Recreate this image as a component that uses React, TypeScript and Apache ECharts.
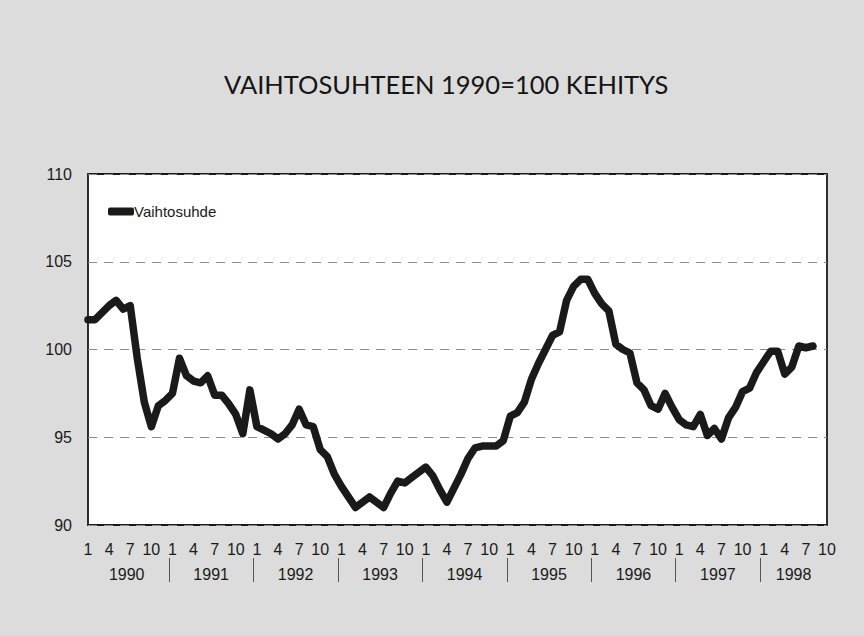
import React, { useEffect, useRef } from "react";
import * as echarts from "echarts";

const TITLE = "VAIHTOSUHTEEN 1990=100 KEHITYS";
const SERIES_NAME = "Vaihtosuhde";
const YEARS = ["1990", "1991", "1992", "1993", "1994", "1995", "1996", "1997", "1998"];
const MONTHS_SHOWN = 106; // 1990-01 .. 1998-10
const Y_MIN = 90;
const Y_MAX = 110;
const Y_STEP = 5;

// monthly values, 1990-01 .. 1998-08
const VALUES = [
  101.7, 101.7, 102.1, 102.5, 102.8, 102.3, 102.5, 99.5, 97.0, 95.6, 96.8, 97.1,
  97.5, 99.5, 98.5, 98.2, 98.1, 98.5, 97.4, 97.4, 96.9, 96.3, 95.2, 97.7,
  95.6, 95.4, 95.2, 94.9, 95.2, 95.7, 96.6, 95.7, 95.6, 94.3, 93.9, 92.9,
  92.2, 91.6, 91.0, 91.3, 91.6, 91.3, 91.0, 91.8, 92.5, 92.4, 92.7, 93.0,
  93.3, 92.8, 92.0, 91.3, 92.1, 92.9, 93.8, 94.4, 94.5, 94.5, 94.5, 94.8,
  96.2, 96.4, 97.0, 98.3, 99.2, 100.0, 100.8, 101.0, 102.8, 103.6, 104.0, 104.0,
  103.2, 102.6, 102.2, 100.3, 100.0, 99.8, 98.1, 97.7, 96.8, 96.6, 97.5, 96.7,
  96.0, 95.7, 95.6, 96.3, 95.1, 95.5, 94.9, 96.1, 96.7, 97.6, 97.8, 98.7,
  99.3, 99.9, 99.9, 98.6, 99.0, 100.2, 100.1, 100.2,
];

const NARROW = "'Liberation Sans Narrow', 'Arial Narrow', 'Liberation Sans', Arial, sans-serif";

export default function App() {
  const ref = useRef<HTMLDivElement>(null);

  useEffect(() => {
    if (!ref.current) return;
    const chart = echarts.init(ref.current, undefined, { renderer: "svg" });

    const monthCats: string[] = [];
    for (let i = 0; i < MONTHS_SHOWN; i++) {
      const y = YEARS[Math.floor(i / 12)];
      const m = (i % 12) + 1;
      monthCats.push(`${y}-${m}`);
    }

    // quarter-month positions for year labels and separators
    const steps = (MONTHS_SHOWN - 1) * 4 + 1;
    const qCats: string[] = [];
    for (let k = 0; k < steps; k++) qCats.push(`q${k}`);
    const yearLabelAt = new Map<number, string>();
    YEARS.forEach((yr, j) => {
      const startM = Math.max(0, j * 12 - 0.5);
      const endM = Math.min(MONTHS_SHOWN - 1, j * 12 + 11.5);
      const center = j === 0 ? 5.5 : (startM + endM) / 2;
      yearLabelAt.set(Math.round(center * 4), yr);
    });

    chart.setOption({
      animation: false,
      backgroundColor: "#dcdcdc",
      title: {
        text: TITLE,
        left: 219,
        top: 66,
        textStyle: {
          fontFamily: "Lato, 'Noto Sans', sans-serif",
          fontSize: 25.5,
          fontWeight: "normal",
          color: "#151515",
        },
      },
      legend: {
        data: [SERIES_NAME],
        left: 103,
        top: 199,
        icon: "roundRect",
        itemWidth: 26,
        itemHeight: 8,
        textStyle: {
          fontFamily: NARROW,
          fontSize: 15,
          color: "#1a1a1a",
          padding: [0, 0, 0, -5],
        },
      },
      grid: {
        left: 88,
        right: 37,
        top: 174,
        bottom: 111,
        show: true,
        backgroundColor: "#ffffff",
        borderColor: "#1a1a1a",
        borderWidth: 1.8,
      },
      xAxis: [
        {
          type: "category",
          data: monthCats,
          boundaryGap: false,
          axisLine: { show: false },
          axisTick: { show: false },
          splitLine: { show: false },
          axisLabel: {
            interval: (idx: number) => idx % 3 === 0,
            formatter: (_v: string, idx: number) => String((idx % 12) + 1),
            margin: 16,
            fontFamily: NARROW,
            fontSize: 16,
            color: "#1a1a1a",
          },
        },
        {
          type: "category",
          data: qCats,
          boundaryGap: false,
          position: "bottom",
          offset: 33,
          axisLine: { show: false },
          axisTick: {
            show: true,
            length: 24,
            interval: (idx: number) => idx >= 46 && (idx - 46) % 48 === 0,
            lineStyle: { color: "#555555", width: 1 },
          },
          splitLine: { show: false },
          axisLabel: {
            interval: (idx: number) => yearLabelAt.has(idx),
            formatter: (_v: string, idx: number) => yearLabelAt.get(idx) || "",
            margin: 8,
            fontFamily: NARROW,
            fontSize: 16,
            color: "#1a1a1a",
          },
        },
      ],
      yAxis: {
        type: "value",
        min: Y_MIN,
        max: Y_MAX,
        interval: Y_STEP,
        axisLine: { show: false },
        axisTick: { show: false },
        axisLabel: {
          margin: 16,
          fontFamily: NARROW,
          fontSize: 16,
          color: "#1a1a1a",
        },
        splitLine: {
          show: true,
          lineStyle: { color: "#8a8a8a", type: [9, 7], width: 1.2 },
        },
      },
      series: [
        {
          name: SERIES_NAME,
          type: "line",
          data: VALUES,
          xAxisIndex: 0,
          showSymbol: false,
          symbol: "none",
          color: "#1a1a1a",
          lineStyle: { width: 7.5, color: "#1a1a1a", cap: "round", join: "round" },
        },
      ],
    });

    return () => chart.dispose();
  }, []);

  return (
    <div
      ref={ref}
      style={{ position: "absolute", left: 0, top: 0, width: 864, height: 636 }}
    />
  );
}
